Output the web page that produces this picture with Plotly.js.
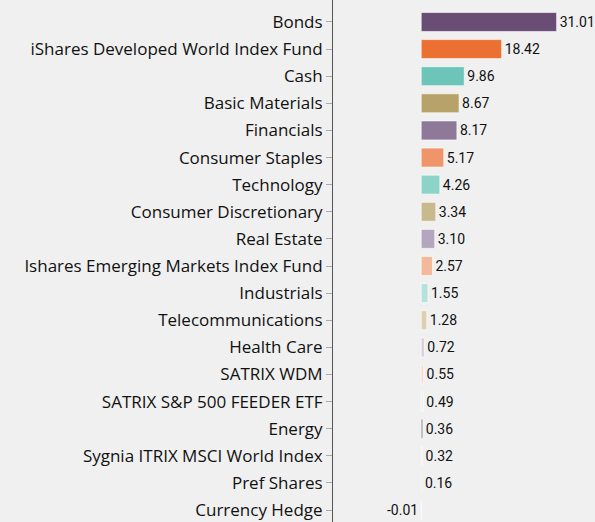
<!DOCTYPE html>
<html>
<head>
<meta charset="utf-8">
<script src="https://cdn.plot.ly/plotly-3.0.1.min.js"></script>
<style>html,body{margin:0;padding:0;background:#f0f0f0;}#chart{width:595px;height:522px;}</style>
</head>
<body>
<div id="chart"></div>
<script>
const categories = ["Bonds","iShares Developed World Index Fund","Cash","Basic Materials","Financials","Consumer Staples","Technology","Consumer Discretionary","Real Estate","Ishares Emerging Markets Index Fund","Industrials","Telecommunications","Health Care","SATRIX WDM","SATRIX S&P 500 FEEDER ETF","Energy","Sygnia ITRIX MSCI World Index","Pref Shares","Currency Hedge"];
const values = [31.01,18.42,9.86,8.67,8.17,5.17,4.26,3.34,3.10,2.57,1.55,1.28,0.72,0.55,0.49,0.36,0.32,0.16,-0.01];
const labels = ["31.01","18.42","9.86","8.67","8.17","5.17","4.26","3.34","3.10","2.57","1.55","1.28","0.72","0.55","0.49","0.36","0.32","0.16","-0.01"];
const colors = ["#694d75","#ec7032","#6cc5b8","#b7a369","#8e7999","#f0946a","#8ed3c8","#c9ba8e","#b4a6bf","#f4b99a","#b5e3dc","#ddd0b1","#d6d0dc","#f9d8c6","#e6f3ef","#777777","#f1e6d8","#cfcfcf","#e0e0e0"];

const trace = {
  type: 'bar',
  orientation: 'h',
  y: categories,
  x: values,
  text: labels,
  texttemplate: '%{text}',
  textposition: 'outside',
  cliponaxis: false,
  textfont: {family: 'Roboto, sans-serif', size: 14, color: '#111'},
  marker: {color: colors, line: {color: 'rgba(255,255,255,0.6)', width: 1}},
  width: 0.7,
  hoverinfo: 'none'
};

const layout = {
  width: 595, height: 522,
  margin: {l: 333, r: 0, t: 0, b: 0},
  paper_bgcolor: '#f0f0f0',
  plot_bgcolor: '#f0f0f0',
  showlegend: false,
  font: {family: '"Open Sans", sans-serif', size: 17, color: '#111'},
  xaxis: {range: [-20.2, 39.8], showgrid: false, zeroline: false, showticklabels: false, ticks: '', showline: false},
  yaxis: {
    type: 'category', categoryorder: 'array', categoryarray: categories,
    range: [18.44, -0.81], showgrid: false, zeroline: false,
    showline: true, linecolor: '#555', linewidth: 1,
    ticks: 'outside', ticklen: 6, tickcolor: '#aaa', tickwidth: 1,
    tickfont: {family: '"Open Sans", sans-serif', size: 17, color: '#111'}
  }
};

Plotly.newPlot('chart', [trace], layout, {staticPlot: true, displayModeBar: false});
</script>
</body>
</html>
